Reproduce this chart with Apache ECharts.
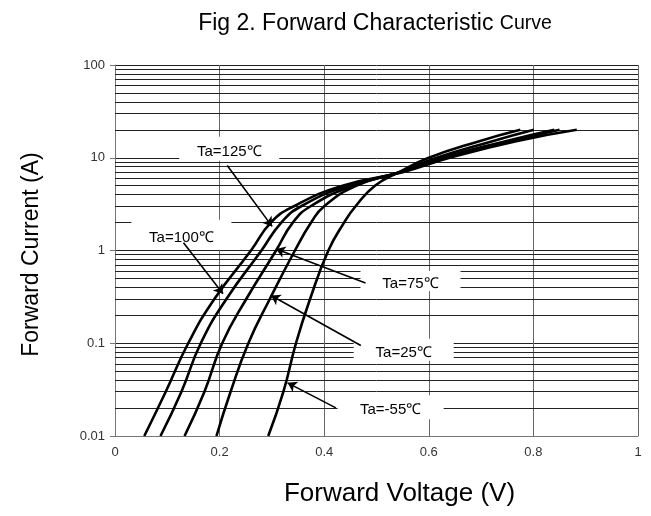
<!DOCTYPE html>
<html>
<head>
<meta charset="utf-8">
<script src="https://cdn.jsdelivr.net/npm/echarts@6/dist/echarts.min.js"></script>
<style>html,body{margin:0;padding:0;background:#fff;}#c{width:651px;height:516px;}</style>
</head>
<body>
<div id="c"></div>
<script>
// ---- data ----
var currents = [0.01, 0.03, 0.1, 0.3, 1, 2, 3, 5, 7, 10, 15, 20];
var v125 = [0.056, 0.097, 0.140, 0.190, 0.260, 0.298, 0.342, 0.435, 0.550, 0.640, 0.765, 0.883];
var v100 = [0.087, 0.127, 0.164, 0.213, 0.280, 0.318, 0.356, 0.446, 0.548, 0.632, 0.755, 0.850];
var v75  = [0.133, 0.171, 0.205, 0.251, 0.308, 0.340, 0.374, 0.455, 0.546, 0.625, 0.745, 0.840];
var v25  = [0.194, 0.221, 0.255, 0.296, 0.344, 0.375, 0.400, 0.462, 0.543, 0.615, 0.720, 0.801];
var vM55 = [0.293, 0.322, 0.346, 0.373, 0.408, 0.438, 0.460, 0.497, 0.543, 0.600, 0.695, 0.775];
var seriesNames = ['Ta=125℃', 'Ta=100℃', 'Ta=75℃', 'Ta=25℃', 'Ta=-55℃'];
var xTickLabels = ['0', '0.2', '0.4', '0.6', '0.8', '1'];
var yTickLabels = ['0.01', '0.1', '1', '10', '100'];
var decades = [0.01, 0.1, 1, 10];
var minorSteps = [2, 3, 4, 5, 6, 7, 8, 9];
// annotation label anchors [V, I] and arrows [[V1,I1],[V2,I2]]
var labelAt = [[0.2185, 12.5], [0.127, 1.48], [0.565, 0.47], [0.552, 0.085], [0.527, 0.0204]];
var labelBox = [[100, 24], [100, 30], [100, 20], [100, 22], [106, 24]];
var arrows = [
  [[0.2146, 8.26], [0.3004, 1.82]],
  [[0.131, 1.21], [0.2065, 0.341]],
  [[0.479, 0.445], [0.308, 1.04]],
  [[0.470, 0.0945], [0.2985, 0.327]],
  [[0.4223, 0.0201], [0.330, 0.0374]]
];

var curves = [v125, v100, v75, v25, vM55];
var FONT = 'Liberation Sans, Arial, sans-serif';

var minorLines = [];
decades.forEach(function (d) {
  minorSteps.forEach(function (k) { minorLines.push({ yAxis: +(d * k).toPrecision(3) }); });
});

var series = curves.map(function (vals, i) {
  return {
    name: seriesNames[i],
    type: 'line',
    smooth: 0.5,
    showSymbol: false,
    symbol: 'none',
    z: 3,
    lineStyle: { color: '#000', width: 2.6 },
    data: vals.map(function (v, j) { return [v, currents[j]]; }),
    markPoint: {
      z: 10,
      silent: true,
      symbol: 'rect',
      symbolSize: labelBox[i],
      itemStyle: { color: '#fff' },
      label: {
        show: true, position: 'inside', color: '#000',
        fontFamily: FONT, fontSize: 15, offset: [0, 3],
        formatter: seriesNames[i]
      },
      data: [{ coord: labelAt[i] }]
    },
    markLine: {
      z: 11,
      silent: true,
      symbol: ['none', 'arrow'],
      symbolSize: 9,
      label: { show: false },
      lineStyle: { color: '#000', width: 1.6, type: 'solid' },
      data: [[{ coord: arrows[i][0] }, { coord: arrows[i][1] }]]
    }
  };
});

series.push({
  type: 'line',
  name: 'grid',
  data: [[0, 1]],
  symbol: 'none',
  showSymbol: false,
  lineStyle: { opacity: 0 },
  z: 1,
  markLine: {
    z: 1,
    silent: true,
    symbol: ['none', 'none'],
    label: { show: false },
    lineStyle: { color: '#222', width: 1, type: 'solid' },
    data: minorLines
  }
});

var chart = echarts.init(document.getElementById('c'), null, { renderer: 'canvas' });
chart.setOption({
  animation: false,
  backgroundColor: '#fff',
  title: {
    text: '{a|Fig 2. Forward Characteristic }{b|Curve}',
    left: 370, top: 7, textAlign: 'center',
    textStyle: {
      fontWeight: 'normal',
      rich: {
        a: { fontFamily: FONT, fontSize: 23, fontWeight: 'normal', color: '#000' },
        b: { fontFamily: FONT, fontSize: 19.5, fontWeight: 'normal', color: '#000' }
      }
    }
  },
  grid: { left: 115, right: 13, top: 65, bottom: 80 },
  xAxis: {
    type: 'value', min: 0, max: 1, interval: 0.2,
    name: 'Forward Voltage (V)', nameLocation: 'middle', nameGap: 45,
    nameTextStyle: { fontFamily: FONT, fontSize: 26, color: '#000', padding: [0, 0, 0, 46] },
    axisLine: { show: true, lineStyle: { color: '#777', width: 1 } },
    axisTick: { show: false },
    axisLabel: {
      fontFamily: FONT, fontSize: 13, color: '#333', margin: 10,
      formatter: function (v) { return xTickLabels[Math.round(v / 0.2)]; }
    },
    splitLine: { show: true, lineStyle: { color: '#666', width: 1 } }
  },
  yAxis: {
    type: 'log', logBase: 10, min: 0.01, max: 100,
    name: 'Forward Current (A)', nameLocation: 'middle', nameGap: 72,
    nameTextStyle: { fontFamily: FONT, fontSize: 23, color: '#000', padding: [0, 8, 0, 0] },
    axisLine: { show: true, lineStyle: { color: '#777', width: 1 } },
    axisTick: { show: true, length: 5, lineStyle: { color: '#777' } },
    axisLabel: {
      fontFamily: FONT, fontSize: 13, color: '#333', margin: 10,
      formatter: function (v) { return yTickLabels[Math.round(Math.log10(v)) + 2]; }
    },
    splitLine: { show: true, lineStyle: { color: '#222', width: 1 } }
  },
  series: series
});
</script>
</body>
</html>
